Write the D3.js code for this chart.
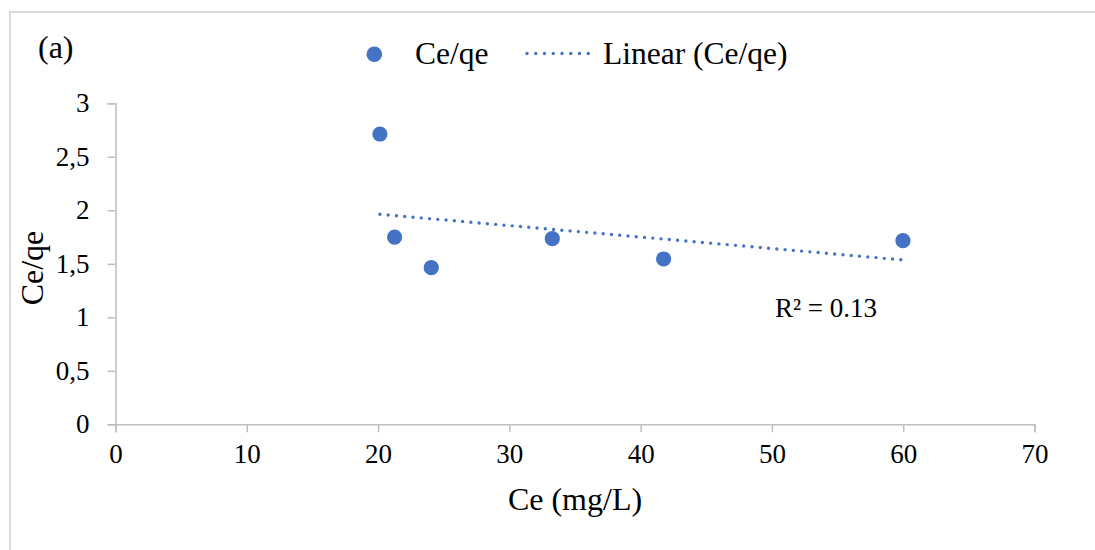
<!DOCTYPE html>
<html>
<head>
<meta charset="utf-8">
<script src="https://cdn.jsdelivr.net/npm/d3@7"></script>
<style>
  html, body { margin: 0; padding: 0; background: #fff; }
  svg text { font-family: "Liberation Serif", "Times New Roman", serif; fill: #000; }
</style>
</head>
<body>
<svg id="chart" width="1095" height="550"></svg>
<script>
// Ce (mg/L) and the matching Ce/qe values
const ceValues = [20.14, 21.26, 24.05, 33.27, 41.75, 59.98];
const ceQeValues = [2.713, 1.750, 1.464, 1.735, 1.545, 1.716];
const xTicks = [0, 10, 20, 30, 40, 50, 60, 70];
const yTicks = [0, 0.5, 1, 1.5, 2, 2.5, 3];
const yTickLabels = ["0", "0,5", "1", "1,5", "2", "2,5", "3"];
const r2Label = "R² = 0.13";

const color = "#4472C4";
const axisColor = "#BFBFBF";

const svg = d3.select("#chart");

// Chart-area frame (only its top and left edges fall inside the page)
svg.append("rect")
  .attr("x", 10).attr("y", 12)
  .attr("width", 1200).attr("height", 700)
  .attr("fill", "none")
  .attr("stroke", "#D9D9D9")
  .attr("stroke-width", 2);

const x = d3.scaleLinear().domain([0, 70]).range([115.5, 1034.5]);
const y = d3.scaleLinear().domain([0, 3]).range([424.3, 103.3]);

// X axis
const xAxis = svg.append("g")
  .attr("transform", `translate(0,${y(0)})`)
  .call(d3.axisBottom(x).tickValues(xTicks).tickSize(8).tickPadding(12).tickFormat(d3.format("d")));
xAxis.select(".domain").attr("stroke", axisColor).attr("stroke-width", 1.5);
xAxis.selectAll(".tick line").attr("stroke", axisColor).attr("stroke-width", 1.5);
xAxis.selectAll(".tick text").attr("font-size", 27).attr("fill", "#000");

// Y axis
const yAxis = svg.append("g")
  .attr("transform", `translate(${x(0)},0)`)
  .call(d3.axisLeft(y).tickValues(yTicks).tickSize(8).tickPadding(18)
    .tickFormat((d, i) => yTickLabels[i]));
yAxis.select(".domain").attr("stroke", axisColor).attr("stroke-width", 1.5);
yAxis.selectAll(".tick line").attr("stroke", axisColor).attr("stroke-width", 1.5);
yAxis.selectAll(".tick text").attr("font-size", 27).attr("fill", "#000");

// Least-squares trend line across the observed Ce range
const mx = d3.mean(ceValues), my = d3.mean(ceQeValues);
let sxy = 0, sxx = 0;
ceValues.forEach((cv, i) => { sxy += (cv - mx) * (ceQeValues[i] - my); sxx += (cv - mx) ** 2; });
const slope = sxy / sxx;
const intercept = my - slope * mx;
const [xMin, xMax] = d3.extent(ceValues);
const trend = [xMin, xMax].map(v => [v, intercept + slope * v]);

svg.append("path")
  .datum(trend)
  .attr("d", d3.line().x(d => x(d[0])).y(d => y(d[1])))
  .attr("fill", "none")
  .attr("stroke", color)
  .attr("stroke-width", 3.4)
  .attr("stroke-linecap", "round")
  .attr("stroke-dasharray", "0 8.3");

// Data points
svg.append("g").selectAll("circle")
  .data(ceValues)
  .join("circle")
  .attr("cx", d => x(d))
  .attr("cy", (d, i) => y(ceQeValues[i]))
  .attr("r", 7.6)
  .attr("fill", color);

// Axis titles
svg.append("text")
  .attr("x", 575).attr("y", 510)
  .attr("text-anchor", "middle")
  .attr("font-size", 32)
  .text("Ce (mg/L)");

svg.append("text")
  .attr("transform", "translate(43,268) rotate(-90)")
  .attr("text-anchor", "middle")
  .attr("font-size", 32)
  .text("Ce/qe");

// Panel tag
svg.append("text")
  .attr("x", 38).attr("y", 58)
  .attr("font-size", 32)
  .text("(a)");

// Legend
const legend = svg.append("g");
legend.append("circle")
  .attr("cx", 374.3).attr("cy", 54.3).attr("r", 7.8).attr("fill", color);
legend.append("text")
  .attr("x", 415).attr("y", 63.5).attr("font-size", 31.5).text("Ce/qe");
legend.append("line")
  .attr("x1", 527).attr("x2", 597).attr("y1", 53.5).attr("y2", 53.5)
  .attr("stroke", color).attr("stroke-width", 3.4)
  .attr("stroke-linecap", "round").attr("stroke-dasharray", "0 8.75");
legend.append("text")
  .attr("x", 603).attr("y", 63.5).attr("font-size", 31.5).text("Linear (Ce/qe)");

// Fit statistic
svg.append("text")
  .attr("x", 775).attr("y", 317)
  .attr("font-size", 27)
  .text(r2Label);
</script>
</body>
</html>
